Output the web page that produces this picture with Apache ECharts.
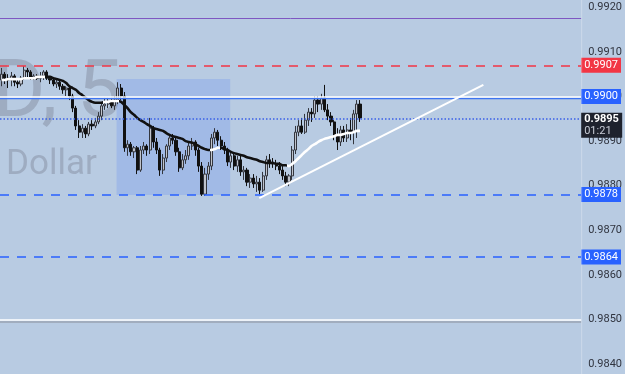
<!DOCTYPE html>
<html><head><meta charset="utf-8">
<script src="https://cdn.jsdelivr.net/npm/echarts@6/dist/echarts.min.js"></script>
<style>html,body{margin:0;padding:0;background:#b8cbe2;}#c{width:625px;height:374px;}</style>
</head><body><div id="c"></div>
<script>
// [open, close, low, high] per 5-minute bar
const candles = [
[0.99037,0.99050,0.99023,0.99064],[0.99050,0.99041,0.99028,0.99055],[0.99041,0.99037,0.99019,0.99050],[0.99037,0.99046,0.99023,0.99055],
[0.99046,0.99032,0.99023,0.99050],[0.99032,0.99028,0.99019,0.99041],[0.99028,0.99041,0.99023,0.99046],[0.99041,0.99059,0.99037,0.99068],
[0.99059,0.99055,0.99041,0.99064],[0.99055,0.99041,0.99037,0.99059],[0.99041,0.99046,0.99037,0.99050],[0.99046,0.99041,0.99037,0.99050],
[0.99041,0.99046,0.99032,0.99055],[0.99046,0.99055,0.99037,0.99059],[0.99055,0.99041,0.99037,0.99059],[0.99041,0.99037,0.99028,0.99046],
[0.99037,0.99028,0.99023,0.99041],[0.99028,0.99032,0.99019,0.99037],[0.99032,0.99023,0.99015,0.99037],[0.99023,0.99015,0.99006,0.99028],
[0.99015,0.99019,0.99001,0.99023],[0.99019,0.99001,0.98992,0.99023],[0.99001,0.98974,0.98965,0.99006],[0.98974,0.98934,0.98925,0.98979],
[0.98934,0.98920,0.98907,0.98947],[0.98920,0.98929,0.98907,0.98938],[0.98929,0.98916,0.98907,0.98934],[0.98916,0.98938,0.98911,0.98943],
[0.98938,0.98934,0.98925,0.98947],[0.98934,0.98943,0.98929,0.98952],[0.98943,0.98956,0.98938,0.98965],[0.98956,0.98979,0.98947,0.98988],
[0.98979,0.98983,0.98970,0.98997],[0.98983,0.98988,0.98974,0.98997],[0.98988,0.98979,0.98974,0.98997],[0.98979,0.98992,0.98970,0.99001],
[0.98992,0.99019,0.98983,0.99032],[0.99019,0.99001,0.98992,0.99028],[0.99001,0.98885,0.98876,0.99010],[0.98885,0.98893,0.98867,0.98902],
[0.98893,0.98876,0.98867,0.98898],[0.98876,0.98885,0.98862,0.98889],[0.98885,0.98835,0.98826,0.98889],[0.98835,0.98880,0.98831,0.98889],
[0.98880,0.98889,0.98871,0.98898],[0.98889,0.98880,0.98867,0.98893],[0.98880,0.98929,0.98871,0.98952],[0.98929,0.98898,0.98885,0.98934],
[0.98898,0.98880,0.98871,0.98907],[0.98880,0.98835,0.98822,0.98885],[0.98835,0.98862,0.98826,0.98871],[0.98862,0.98889,0.98853,0.98893],
[0.98889,0.98907,0.98880,0.98916],[0.98907,0.98902,0.98893,0.98916],[0.98902,0.98876,0.98867,0.98907],[0.98876,0.98840,0.98831,0.98885],
[0.98840,0.98858,0.98835,0.98871],[0.98858,0.98867,0.98849,0.98880],[0.98867,0.98889,0.98858,0.98898],[0.98889,0.98898,0.98880,0.98907],
[0.98898,0.98880,0.98867,0.98902],[0.98880,0.98844,0.98831,0.98885],[0.98844,0.98781,0.98777,0.98853],[0.98781,0.98826,0.98777,0.98840],
[0.98826,0.98844,0.98813,0.98853],[0.98844,0.98907,0.98835,0.98916],[0.98907,0.98920,0.98893,0.98929],[0.98920,0.98902,0.98889,0.98925],
[0.98902,0.98889,0.98880,0.98911],[0.98889,0.98880,0.98871,0.98898],[0.98880,0.98853,0.98844,0.98885],[0.98853,0.98867,0.98840,0.98876],
[0.98867,0.98844,0.98835,0.98871],[0.98844,0.98858,0.98831,0.98867],[0.98858,0.98831,0.98822,0.98867],[0.98831,0.98835,0.98813,0.98844],
[0.98835,0.98808,0.98799,0.98840],[0.98808,0.98817,0.98795,0.98826],[0.98817,0.98804,0.98795,0.98826],[0.98804,0.98808,0.98786,0.98822],
[0.98808,0.98790,0.98781,0.98817],[0.98790,0.98822,0.98786,0.98831],[0.98822,0.98858,0.98813,0.98867],[0.98858,0.98853,0.98840,0.98871],
[0.98853,0.98849,0.98840,0.98862],[0.98849,0.98844,0.98835,0.98858],[0.98844,0.98835,0.98826,0.98853],[0.98835,0.98822,0.98813,0.98844],
[0.98822,0.98808,0.98799,0.98831],[0.98808,0.98822,0.98799,0.98826],[0.98822,0.98880,0.98813,0.98889],[0.98880,0.98920,0.98871,0.98934],
[0.98920,0.98934,0.98911,0.98947],[0.98934,0.98920,0.98916,0.98952],[0.98920,0.98947,0.98916,0.98961],[0.98947,0.98965,0.98934,0.98974],
[0.98965,0.98961,0.98943,0.98974],[0.98961,0.98992,0.98952,0.99001],[0.98992,0.98983,0.98965,0.99001],[0.98983,0.98997,0.98970,0.99006],
[0.98997,0.98970,0.98965,0.99026],[0.98970,0.98956,0.98947,0.98983],[0.98956,0.98943,0.98934,0.98965],[0.98943,0.98911,0.98902,0.98947],
[0.98911,0.98898,0.98880,0.98929],[0.98898,0.98925,0.98889,0.98934],[0.98925,0.98907,0.98898,0.98934],[0.98907,0.98925,0.98898,0.98938],
[0.98925,0.98920,0.98902,0.98952],[0.98920,0.98961,0.98893,0.98970],[0.98961,0.98983,0.98907,0.98992],[0.98983,0.98952,0.98943,0.98992]
];
// moving average, one value per bar
const maValues = [
0.99037,0.99037,0.99039,0.99039,0.99039,0.99039,0.99039,0.99041,0.99041,0.99041,0.99041,0.99044,0.99044,0.99044,
0.99044,0.99044,0.99041,0.99039,0.99037,0.99035,0.99030,0.99023,0.99019,0.99015,0.99008,0.99003,0.98997,0.98992,
0.98988,0.98986,0.98986,0.98986,0.98988,0.98988,0.98990,0.98990,0.98990,0.98988,0.98981,0.98974,0.98965,0.98959,
0.98952,0.98947,0.98943,0.98938,0.98934,0.98929,0.98927,0.98925,0.98923,0.98918,0.98914,0.98911,0.98909,0.98907,
0.98905,0.98900,0.98898,0.98896,0.98893,0.98889,0.98885,0.98882,0.98880,0.98880,0.98882,0.98885,0.98885,0.98882,
0.98880,0.98876,0.98873,0.98871,0.98869,0.98867,0.98864,0.98862,0.98860,0.98858,0.98855,0.98853,0.98851,0.98851,
0.98851,0.98849,0.98849,0.98846,0.98846,0.98844,0.98849,0.98855,0.98862,0.98869,0.98876,0.98882,0.98889,0.98893,
0.98898,0.98902,0.98905,0.98907,0.98909,0.98911,0.98914,0.98914,0.98916,0.98918,0.98918,0.98920,0.98923,0.98923
];
const yTicks = [0.9840,0.9850,0.9860,0.9870,0.9880,0.9890,0.9900,0.9910,0.9920];
const purpleLevel = 0.99176;
const redLevel = 0.9907;
const whiteLevel = 0.9900;
const currentPrice = 0.9895;
const countdown = '01:21';
const blueLevels = [0.9878, 0.9864];
const floorLevel = 0.9850;
const trendStart = [79.8, 0.98772];
const trendEnd = [149.2, 0.99026];
const zoneStart = [35.6, 0.99039];
const zoneEnd = [70.8, 0.98779];
const watermarkTop = 'D, 5';
const watermarkBottom = 'Dollar';

const chart = echarts.init(document.getElementById('c'), null, {renderer:'canvas'});
const fmt = v => v.toFixed(4);
const boxLabel = (bg, text) => ({show:true, position:'end', distance:0, formatter:text, color:'#fff',
  backgroundColor:bg, padding:[2,3,1,3], fontSize:11, fontFamily:'Roboto', lineHeight:12});

const option = {
  animation:false,
  backgroundColor:'#b8cbe2',
  grid:{left:0, right:42, top:7.3, bottom:9.9, containLabel:false},
  xAxis:{type:'value', min:-0.5, max:179.5, show:false},
  yAxis:{type:'value', position:'right', min:yTicks[0], max:yTicks[yTicks.length-1], interval:0.001,
    splitLine:{show:false}, axisLine:{show:false}, axisTick:{show:false},
    axisLabel:{formatter:fmt, color:'#30343f', fontSize:11, fontFamily:'Roboto', margin:7, align:'left'}},
  visualMap:{show:false, type:'piecewise', seriesIndex:2, dimension:0,
    pieces:[{lt:13.5,color:'#ffffff'},{gte:13.5,lt:31.5,color:'#111111'},{gte:31.5,lt:36.5,color:'#ffffff'},
      {gte:36.5,lt:64.5,color:'#111111'},{gte:64.5,lt:67.5,color:'#ffffff'},{gte:67.5,lt:88.5,color:'#111111'},{gte:88.5,color:'#ffffff'}]},
  series:[
    {type:'line', data:[], z:1, silent:true,
      markArea:{silent:true, itemStyle:{color:'rgba(41,98,255,0.16)'},
        data:[[{coord:zoneStart},{coord:zoneEnd}]]}},
    {type:'candlestick', z:3, barWidth:2.6,
      data:candles.map((c,i)=>[i,c[0],c[1],c[2],c[3]]), encode:{x:0,y:[1,2,3,4]},
      itemStyle:{color:'#bfc3cc', color0:'#111111', borderColor:'#33363e', borderColor0:'#111111', borderWidth:1},
      markLine:{silent:true, symbol:['none','none'], animation:false, precision:5,
        data:[
          {yAxis:purpleLevel, lineStyle:{color:'#7e57c2', width:1, type:'solid'}, label:{show:false}},
          {yAxis:redLevel, lineStyle:{color:'#f23645', width:1.5, type:[9,8]}, label:boxLabel('#f23645', fmt(redLevel))},
          {yAxis:whiteLevel, lineStyle:{color:'#ffffff', width:1.5, type:'solid', shadowColor:'#3d74f0', shadowOffsetY:1.5, shadowBlur:0}, label:boxLabel('#2962ff', fmt(whiteLevel))},
          {yAxis:currentPrice, lineStyle:{color:'#3a60e8', width:1.6, type:[1.5,2]}, label:{show:false}},
          {yAxis:blueLevels[0], lineStyle:{color:'#2962ff', width:1.5, type:[9,8]}, label:boxLabel('#2962ff', fmt(blueLevels[0]))},
          {yAxis:blueLevels[1], lineStyle:{color:'#2962ff', width:1.5, type:[9,8]}, label:boxLabel('#2962ff', fmt(blueLevels[1]))},
          {yAxis:floorLevel, lineStyle:{color:'#ffffff', width:1.5, type:'solid', shadowColor:'#9aa3b2', shadowOffsetY:2, shadowBlur:0}, label:{show:false}},
          [{coord:trendStart, lineStyle:{color:'#ffffff', width:2, type:'solid'}, label:{show:false}},{coord:trendEnd}]
        ]}},
    {type:'line', z:4, data:maValues.map((v,i)=>[i,v]), showSymbol:false, smooth:0.3,
      lineStyle:{width:2.6}}
  ]
};
chart.setOption(option);

const gridRight = chart.convertToPixel({xAxisIndex:0}, 179.5);
const py = chart.convertToPixel({yAxisIndex:0}, currentPrice);
chart.setOption({graphic:[
  {type:'text', z:0, x:122, y:136, style:{text:watermarkTop, fontSize:80, fontFamily:'Roboto',
    fill:'rgba(115,122,140,0.38)', textAlign:'right', textVerticalAlign:'bottom'}},
  {type:'text', z:0, x:6, y:183, style:{text:watermarkBottom, fontSize:35, fontFamily:'Roboto',
    fill:'rgba(115,122,140,0.38)', textAlign:'left', textVerticalAlign:'bottom'}},
  {type:'line', z:10, shape:{x1:gridRight+0.5, y1:0, x2:gridRight+0.5, y2:374}, style:{stroke:'rgba(255,255,255,0.3)', lineWidth:1}},
  {type:'rect', z:20, shape:{x:gridRight, y:py-6, width:41, height:25}, style:{fill:'#1e222d'}},
  {type:'text', z:21, x:gridRight+3, y:py, style:{text:fmt(currentPrice), fontSize:11, fontFamily:'Roboto', fontWeight:'bold', fill:'#ffffff', textVerticalAlign:'middle'}},
  {type:'text', z:21, x:gridRight+3, y:py+12, style:{text:countdown, fontSize:11, fontFamily:'Roboto', fill:'#c8ccd6', textVerticalAlign:'middle'}}
]});
</script></body></html>
